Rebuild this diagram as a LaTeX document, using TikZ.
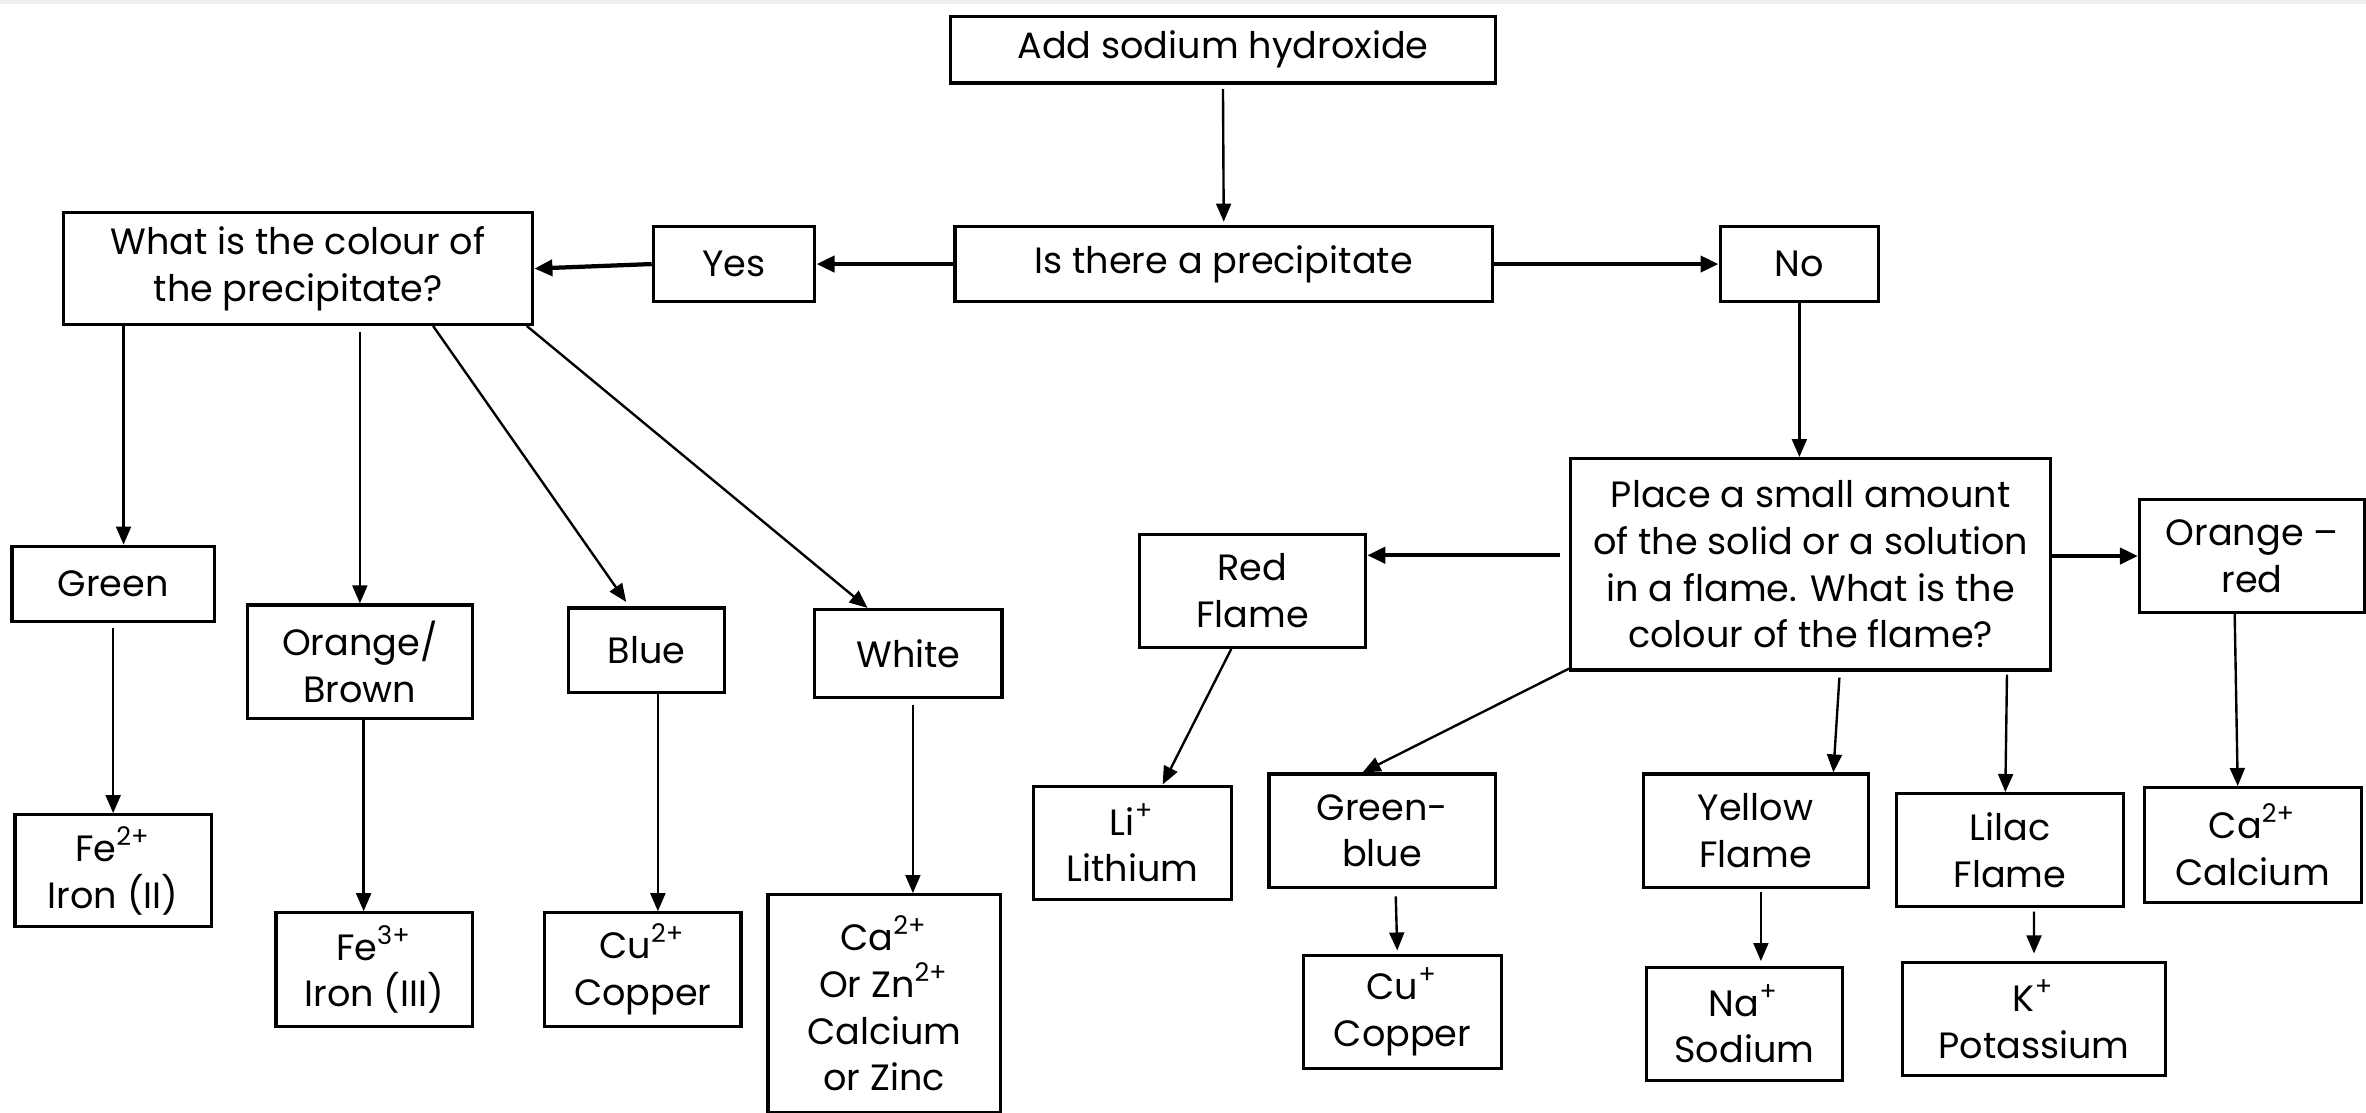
\documentclass[tikz,border=0pt]{standalone}
\usepackage{fontspec}
\setmainfont{Poppins}
\usetikzlibrary{arrows.meta}
\definecolor{TopGrey}{HTML}{EFEFEF}

\tikzset{
  box/.style={draw, line width=0.6pt, align=center, inner sep=0pt, font=\fontsize{6.9}{8.8}\selectfont},
  arr/.style={line width=0.45pt, -{Triangle[length=3.4pt,width=2.8pt]}},
  arrthick/.style={line width=0.8pt, -{Triangle[length=3.4pt,width=3pt]}}
}

\begin{document}
\begin{tikzpicture}[x=0.01cm,y=-0.01cm]
\useasboundingbox (0,0) rectangle (1568,737);
\fill[TopGrey] (0,0) rectangle (1568,2.4);

% top of the chart
\node[box, minimum width=3.61cm, minimum height=0.44cm] (add) at (810.5,33) {Add sodium hydroxide};
\node[box, minimum width=3.56cm, minimum height=0.5cm] (isppt) at (811,175) {Is there a precipitate};
\node[box, minimum width=1.07cm, minimum height=0.5cm] (yes) at (486.5,175) {Yes};
\node[box, minimum width=1.05cm, minimum height=0.5cm] (no) at (1192.5,175) {No};

% precipitate side
\node[box, minimum width=3.11cm, minimum height=0.74cm] (what) at (197.5,178) {What is the colour of\\the precipitate?};
\node[box, minimum width=1.34cm, minimum height=0.5cm] (green) at (75,387) {Green};
\node[box, minimum width=1.49cm, minimum height=0.75cm] (orange) at (238.5,438.5) {Orange/\\Brown};
\node[box, minimum width=1.03cm, minimum height=0.56cm] (blue) at (428.5,431) {Blue};
\node[box, minimum width=1.24cm, minimum height=0.58cm] (white) at (602,433) {White};
\node[box, minimum width=1.3cm, minimum height=0.74cm] (fetwo) at (75,577) {Fe\textsuperscript{2+}\\Iron (II)};
\node[box, minimum width=1.3cm, minimum height=0.75cm] (fethree) at (248,642.5) {Fe\textsuperscript{3+}\\Iron (III)};
\node[box, minimum width=1.3cm, minimum height=0.75cm] (cutwo) at (426,642.5) {Cu\textsuperscript{2+}\\Copper};
\node[box, minimum width=1.54cm, minimum height=1.44cm] (cazn) at (586,665) {Ca\textsuperscript{2+}\\Or Zn\textsuperscript{2+}\\Calcium\\or Zinc};

% flame test side
\node[box, minimum width=3.18cm, minimum height=1.4cm] (place) at (1200,374) {Place a small amount\\of the solid or a solution\\in a flame. What is the\\colour of the flame?};
\node[box, minimum width=1.5cm, minimum height=0.75cm] (redfl) at (830,391.5) {Red\\Flame};
\node[box, minimum width=1.49cm, minimum height=0.75cm] (orred) at (1492.5,368.5) {Orange –\\red};
\node[box, minimum width=1.31cm, minimum height=0.75cm] (li) at (750.5,558.5) {Li\textsuperscript{+}\\Lithium};
\node[box, minimum width=1.5cm, minimum height=0.75cm] (grblue) at (916,550.5) {Green-\\blue};
\node[box, minimum width=1.49cm, minimum height=0.75cm] (yellow) at (1163.5,550.5) {Yellow\\Flame};
\node[box, minimum width=1.5cm, minimum height=0.75cm] (lilac) at (1332,563.5) {Lilac\\Flame};
\node[box, minimum width=1.44cm, minimum height=0.76cm] (cacal) at (1493,560) {Ca\textsuperscript{2+}\\Calcium};
\node[box, minimum width=1.31cm, minimum height=0.75cm] (cuone) at (929.5,670.5) {Cu\textsuperscript{+}\\Copper};
\node[box, minimum width=1.3cm, minimum height=0.75cm] (na) at (1156,678.5) {Na\textsuperscript{+}\\Sodium};
\node[box, minimum width=1.74cm, minimum height=0.75cm] (kal) at (1348,675.5) {K\textsuperscript{+}\\Potassium};

% connectors
\draw[arr] ([yshift=-0.03cm]add.south) -- ([yshift=0.02cm]isppt.north);
\draw[arrthick] (isppt.west) -- (yes.east);
\draw[arrthick] (yes.west) -- (what.east);
\draw[arrthick] (isppt.east) -- (no.west);
\draw[arr] (no.south) -- (no.south |- place.north);

\draw[arr] ([xshift=0.41cm]what.south west) -- ([xshift=0.41cm]what.south west |- green.north);
\draw[arr] ([yshift=-0.04cm]what.south -| orange.north) -- (orange.north);
\draw[arr] ([xshift=0.895cm]what.south) -- ([xshift=-0.135cm,yshift=0.03cm]blue.north);
\draw[arr] ([xshift=-0.05cm]what.south east) -- ([xshift=-0.27cm]white.north);
\draw[arr] ([yshift=-0.03cm]green.south) -- (green.south |- fetwo.north);
\draw[arr] ([xshift=0.025cm]orange.south) -- ([xshift=0.025cm]orange.south |- fethree.north);
\draw[arr] ([xshift=0.075cm]blue.south) -- ([xshift=0.075cm]blue.south |- cutwo.north);
\draw[arr] ([xshift=0.03cm,yshift=-0.04cm]white.south) -- ([xshift=0.03cm]white.south |- cazn.north);

\draw[arrthick] ([xshift=-0.06cm,yshift=0.06cm]place.west) -- ([yshift=0.06cm]place.west -| redfl.east);
\draw[arrthick] (place.east |- orred.west) -- (orred.west);
\draw[arr] ([xshift=-0.14cm]redfl.south) -- ([xshift=0.2cm]li.north);
\draw[arr] ([yshift=0.02cm]place.south west) -- ([xshift=-0.13cm]grblue.north);
\draw[arr] ([xshift=0.19cm,yshift=-0.04cm]place.south) -- ([xshift=0.515cm]yellow.north);
\draw[arr] ([xshift=1.3cm,yshift=-0.02cm]place.south) -- ([xshift=-0.03cm]lilac.north);
\draw[arr] ([xshift=-0.115cm]orred.south) -- ([xshift=-0.1cm]cacal.north);
\draw[arr] ([xshift=0.09cm,yshift=-0.05cm]grblue.south) -- ([xshift=-0.035cm,yshift=0.02cm]cuone.north);
\draw[arr] ([xshift=0.035cm,yshift=-0.02cm]yellow.south) -- ([xshift=0.035cm,yshift=0.03cm]yellow.south |- na.north);
\draw[arr] ([xshift=0.16cm,yshift=-0.02cm]lilac.south) -- ([yshift=0.05cm]kal.north);
\end{tikzpicture}
\end{document}
